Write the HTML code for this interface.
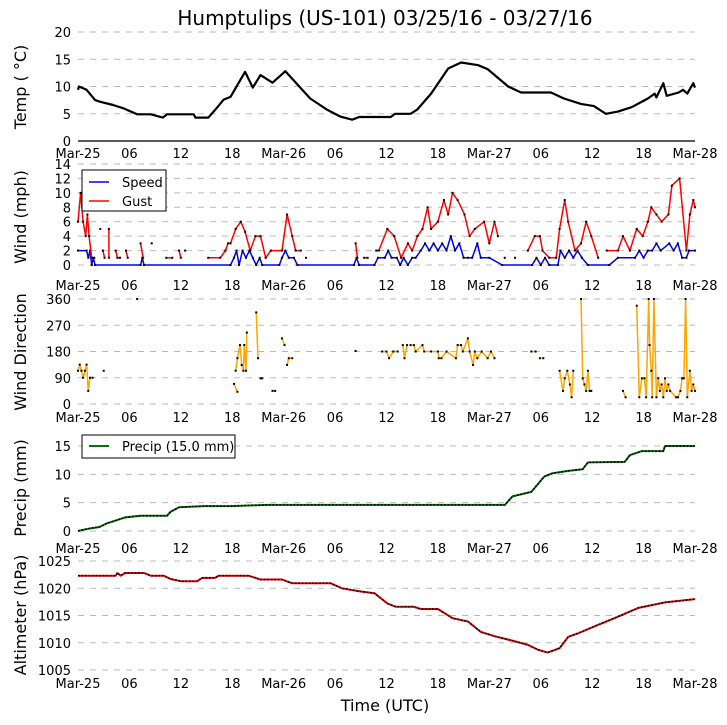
<!DOCTYPE html>
<html><head><meta charset="utf-8">
<style>
html,body{margin:0;padding:0;background:#fff;}
svg{display:block;font-family:"DejaVu Sans","Liberation Sans",sans-serif;}
</style></head>
<body>
<svg id="chart" width="727" height="725" viewBox="0 0 727 725" xmlns="http://www.w3.org/2000/svg">
<rect width="727" height="725" fill="#fff"/>
<text x="385" y="25" font-size="20" text-anchor="middle">Humptulips (US-101) 03/25/16 - 03/27/16</text>
<text transform="translate(26,87) rotate(-90)" font-size="16" text-anchor="middle">Temp ( °C)</text>
<text transform="translate(26,217) rotate(-90)" font-size="16" text-anchor="middle">Wind (mph)</text>
<text transform="translate(26,352) rotate(-90)" font-size="16" text-anchor="middle">Wind Direction</text>
<text transform="translate(26,488) rotate(-90)" font-size="16" text-anchor="middle">Precip (mm)</text>
<text transform="translate(26,615) rotate(-90)" font-size="16" text-anchor="middle">Altimeter (hPa)</text>
<text x="385" y="711" font-size="16" text-anchor="middle">Time (UTC)</text>
<g id="plots"></g>
<g>
<rect x="82" y="170" width="84" height="41" fill="#fff" stroke="#000" stroke-width="1"/>
<line x1="89" y1="182" x2="109" y2="182" stroke="#0000ff" stroke-width="1.5"/>
<text x="122" y="187" font-size="13">Speed</text>
<line x1="89" y1="201" x2="109" y2="201" stroke="#ff0000" stroke-width="1.5"/>
<text x="122" y="206" font-size="13">Gust</text>
</g>
<g>
<rect x="82" y="435" width="153" height="23" fill="#fff" stroke="#000" stroke-width="1"/>
<line x1="89" y1="446" x2="109" y2="446" stroke="#007700" stroke-width="2"/>
<text x="122" y="451" font-size="13">Precip (15.0 mm)</text>
</g>
</svg>
<script>
const tickLabels=["Mar-25","06","12","18","Mar-26","06","12","18","Mar-27","06","12","18","Mar-28"];
const tickHours=[0,6,12,18,24,30,36,42,48,54,60,66,72];
const tempHours=[0,0.1,1,2,2.6,4.1,5.3,6.9,8.5,9.9,10.4,13.5,13.7,15.2,16,17,17.8,19.5,20.4,21.3,22.7,24.2,27.1,29.1,30.6,32,32.8,36.5,37,38.8,39.6,41.2,43.2,44.7,46.7,47.8,50.2,51.7,55.2,56.7,58.7,60.2,61.6,63,64.6,66.5,67.3,67.5,68.3,68.7,70.1,70.6,71.1,71.8,72];
const tempVals=[9.4,10,9.4,7.5,7.2,6.6,6,4.9,4.9,4.3,4.9,4.9,4.3,4.3,5.7,7.6,8.1,12.7,9.8,12.1,10.7,12.8,7.8,5.7,4.5,3.9,4.4,4.4,5,5,5.8,8.7,13.3,14.4,13.9,13.2,10,8.9,8.9,7.8,6.8,6.4,5,5.4,6.2,7.8,8.7,8,10.6,8.3,8.9,9.4,8.7,10.6,9.8];
const gustHours=[0,0.3,0.6,0.9,1.1,1.3,1.6,1.9,null,2.6,null,2.9,3.1,null,3.6,3.6,null,4.4,4.6,4.9,null,5.6,5.8,null,7.3,7.6,null,8.6,null,10.3,11,null,11.8,12,null,12.5,null,15.2,16.6,17.2,17.5,17.8,18.4,19,19.5,20.1,20.7,21.3,21.9,22.5,23.8,24.4,25,25.4,26,null,26.6,null,32.4,32.6,null,33.4,33.8,null,34.8,35.1,36.1,36.9,37.7,38.5,39,39.6,40.2,40.8,41.2,42,42.7,43.2,43.7,44.3,45.1,45.7,46.3,47.4,48,48.6,49,null,49.8,null,51,null,52.5,53.3,53.9,54.2,55,55.8,56.2,56.8,57.2,58,58.7,59.3,59.9,60.7,null,61.7,63,63.6,64.4,65.2,65.9,66.5,66.9,67.5,68.1,68.9,69.3,70.2,71,71.4,71.8,72];
const gustVals=[6,10,6,4,7,4,1,1,null,5,null,2,1,null,5,1,null,2,1,1,null,2,1,null,3,1,null,3,null,1,1,null,2,1,null,2,null,1,1,2,3,3,5,6,4.6,2,4,4,1,2,2,7,4,2,2,null,1,null,3,1,null,1,1,null,2,2,5,4,1,3,2,4,5,8,5,6,9,7,10,9,7,4,5,6,3,6,4,null,1,null,1,null,2,4,4,2,1,1,5,9,6,2,3,6,4,1,null,2,2,4,2,5,4,6,8,7,6,7,11,12,2,7,9,8];
const speedHours=[0,1,1.2,1.4,1.6,1.8,2,7.3,7.5,7.7,17.8,18.2,18.5,18.8,19.2,19.6,20,20.4,20.8,21.2,21.5,23.5,23.8,24.2,24.6,25.2,25.6,32.2,32.5,32.8,34.6,35,35.8,36.2,36.6,37.2,37.6,38,38.5,39,39.4,40,40.5,41,41.5,42,42.5,43,43.5,44,44.5,45,45.5,46,46.6,47,48,49.5,53,53.5,54,54.5,55,56,56.3,56.8,57.3,57.8,58.3,58.8,59.5,62,63,65,65.5,66,66.5,67,67.5,68,69,69.5,70,70.5,71,71.3,72];
const speedVals=[2,2,1,2,0,1,0,0,1,0,0,1,2,0,2,1,2,1,0,1,0,0,1,2,1,1,0,0,1,0,0,1,1,2,1,1,0,1,0,1,1,2,3,2,3,2,3,2,4,2,3,1,1,1,3,1,1,0,0,1,0,1,0,0,2,1,2,1,2,1,0,0,1,1,2,1,2,2,3,2,3,2,3,1,1,2,2];
const dirHours=[0,0.2,0.4,0.6,0.8,1,1.2,1.4,1.7,null,3,null,6.9,null,18.2,18.6,null,18.4,18.6,18.9,19.1,19.3,19.4,19.6,19.7,null,20.8,21,null,21.3,21.5,null,22.7,23,null,23.8,24.1,null,24.4,24.6,25,null,32.4,null,35.5,36,36.3,36.8,37.3,null,37.9,38.1,38.4,null,38.8,39.2,39.4,40.2,40.4,41.2,42,42.1,42.4,43,44.1,44.3,44.7,44.9,45.5,45.7,46.1,46.3,46.6,47.1,47.8,48.2,48.6,null,52.9,53.4,null,53.9,54.3,null,56.2,56.6,56.8,57.1,57.4,57.6,57.8,null,58.7,58.9,59.1,59.3,59.5,59.7,59.9,null,63.6,63.9,null,65.2,65.5,65.8,66.1,66.3,66.6,66.7,66.9,67,67.2,67.5,67.7,67.9,68.1,68.3,68.5,68.7,68.9,69.1,69.8,70,70.3,70.5,70.7,70.9,71.1,71.4,71.6,71.8,72];
const dirVals=[114,135,114,90,114,135,45,90,90,null,114,null,360,null,69,42,null,114,157,202,134,114,202,114,245,null,314,157,null,88,88,null,45,45,null,225,202,null,134,157,157,null,182,null,180,180,157,180,180,null,202,157,202,null,202,202,180,202,180,180,180,157,157,180,157,202,202,180,225,180,134,180,157,180,157,180,157,null,180,180,null,157,157,null,114,45,88,114,67,23,114,null,360,88,67,45,114,45,45,null,45,23,null,337,23,88,88,23,360,202,114,23,360,23,88,45,67,23,88,45,67,45,23,23,45,88,88,360,23,114,45,67,45];
const precipHours=[0,1.2,2.5,3.3,4.3,5.5,7.3,10.4,10.8,11.8,14.7,17.8,22.1,49.8,50.7,52.9,54.4,55.4,57.2,58.9,59.5,63.8,64.4,65.8,68.3,68.5,72];
const precipVals=[0,0.4,0.7,1.3,1.8,2.4,2.7,2.7,3.4,4.2,4.4,4.4,4.6,4.6,6.1,6.9,9.6,10.2,10.6,10.9,12.1,12.2,13.4,14.1,14.1,15,15];
const altHours=[0,4.4,4.6,5,5.5,7.7,8.5,10,10.8,12,13.9,14.5,16,16.4,19.9,21.3,23.8,25,29.5,30.8,33,34.6,36.1,37.1,39.2,40,42,43.7,45.5,47,48.6,50.9,52.5,53.7,54.8,56.2,57.2,58.3,60.7,62.6,65.4,68.5,72];
const altVals=[1022.3,1022.3,1022.8,1022.3,1022.8,1022.8,1022.3,1022.3,1021.7,1021.3,1021.3,1021.9,1021.9,1022.3,1022.3,1021.6,1021.6,1020.9,1020.9,1020,1019.4,1019.1,1017.2,1016.6,1016.6,1016.2,1016.2,1014.5,1013.9,1012,1011.2,1010.3,1009.6,1008.7,1008.2,1009,1011.1,1011.7,1013.3,1014.5,1016.4,1017.4,1018];

const NS="http://www.w3.org/2000/svg";
const root=document.getElementById("plots");
const X0=78,X1=695;
function xs(h){return X0+h*(X1-X0)/72;}
function mk(tag,attrs,parent){const e=document.createElementNS(NS,tag);for(const k in attrs)e.setAttribute(k,attrs[k]);(parent||root).appendChild(e);return e;}
function yscale(v0,v1,p0,p1){return v=>p0+(v-v0)*(p1-p0)/(v1-v0);}

const panels=[
 {name:"temp",ys:yscale(0,20,141,32),ticks:[0,5,10,15,20],lab:158,solidZero:true},
 {name:"wind",ys:yscale(0,14,265,164),ticks:[0,2,4,6,8,10,12,14],lab:290},
 {name:"direction",ys:yscale(0,360,404,299),ticks:[0,90,180,270,360],lab:422},
 {name:"precip",ys:yscale(0,15,531,446),ticks:[0,5,10,15],lab:553},
 {name:"altimeter",ys:yscale(1005,1025,670,561),ticks:[1005,1010,1015,1020,1025],lab:688}
];
panels.forEach(p=>{
  const g=mk("g",{});
  
  
  p.ticks.forEach((t,i)=>{
    const y=p.ys(t);
    const solid=p.solidZero&&i===0;
    const ln=mk("line",{x1:X0,x2:X1,y1:y,y2:y,stroke:solid?"#222":"#bbb","stroke-width":solid?1.5:1,"stroke-dasharray":solid?"none":"6,6"},g);
    
    
    const tx=mk("text",{x:71,y:y+5,"font-size":13,"text-anchor":"end"},g);
    tx.textContent=t;
    
    
  });
  tickHours.forEach((h,i)=>{
    const tx=mk("text",{x:xs(h),y:p.lab,"font-size":13,"text-anchor":"middle"},g);
    tx.textContent=tickLabels[i];
    
    
  });
});

function segs(hs,vs){const out=[];let cur=[];for(let i=0;i<hs.length;i++){if(hs[i]===null||vs[i]===null){if(cur.length)out.push(cur);cur=[];}else cur.push([Math.min(hs[i],72),vs[i]]);}if(cur.length)out.push(cur);return out;}
function drawSeries(name,hs,vs,ys,color,w,dots,dashOverlay){
  const g=mk("g",{});
  
  
  segs(hs,vs).forEach(s=>{
    const pts=s.map(q=>xs(q[0]).toFixed(1)+","+ys(q[1]).toFixed(1)).join(" ");
    if(s.length>1){
      const pl=mk("polyline",{points:pts,fill:"none",stroke:color,"stroke-width":w,"stroke-linejoin":"round"},g);
      
      
      if(dashOverlay){
        const d=mk("polyline",{points:pts,fill:"none",stroke:"#000","stroke-width":1.5,"stroke-dasharray":"2,1.5"},g);
        
        
      }
    }
    if(dots){s.forEach(q=>{
      const c=mk("rect",{x:xs(q[0])-1,y:ys(q[1])-1,width:2,height:2,fill:"#000"},g);
      
      
    });}
  });
}
drawSeries("temperature",tempHours,tempVals,panels[0].ys,"#000",2.2,false,false);
drawSeries("wind-speed",speedHours,speedVals,panels[1].ys,"#0000ff",1.5,true,false);
drawSeries("wind-gust",gustHours,gustVals,panels[1].ys,"#ff0000",1.5,true,false);
drawSeries("wind-direction",dirHours,dirVals,panels[2].ys,"#ffa500",1.5,true,false);
drawSeries("precip",precipHours,precipVals,panels[3].ys,"#007700",2,false,true);
drawSeries("altimeter",altHours,altVals,panels[4].ys,"#ff0000",2,false,true);
</script>
</body></html>
